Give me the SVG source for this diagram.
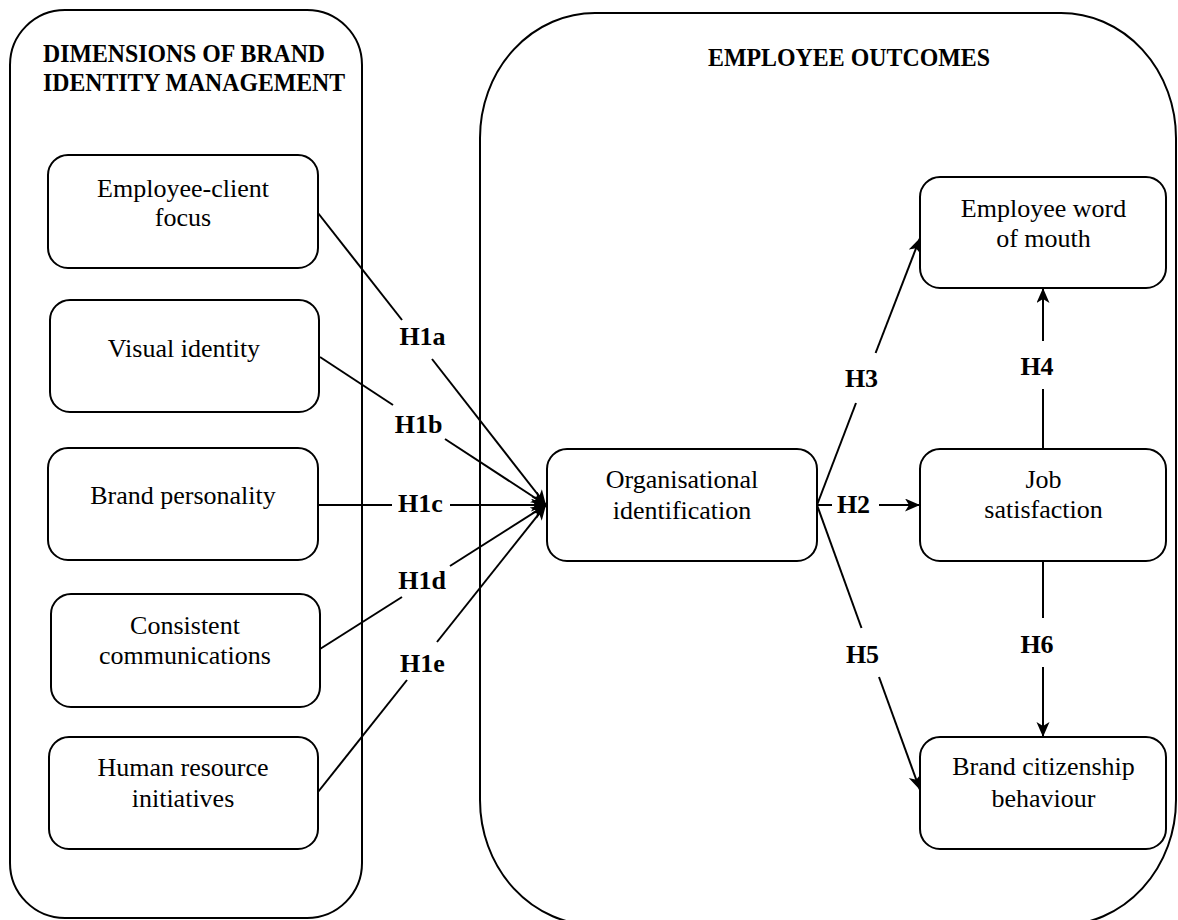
<svg xmlns="http://www.w3.org/2000/svg" width="1178" height="920" viewBox="0 0 1178 920">
<style>
.bg{fill:#fff}
.cont{fill:none;stroke:#000;stroke-width:2}
.box{fill:#fff;stroke:#000;stroke-width:2}
.t{font-family:"Liberation Serif","Times New Roman",serif;font-size:26px;fill:#000;text-anchor:middle}
.title{font-family:"Liberation Serif","Times New Roman",serif;font-size:25px;font-weight:bold;fill:#000}
.lbl{font-family:"Liberation Serif","Times New Roman",serif;font-size:26px;font-weight:bold;fill:#000;text-anchor:middle}
.ln{fill:none;stroke:#000;stroke-width:2}
.arr{marker-end:url(#ah)}
</style>
<defs>
<marker id="ah" markerUnits="userSpaceOnUse" markerWidth="16" markerHeight="14" refX="15" refY="6.5" orient="auto">
<path d="M0,0 L15,6.5 L0,13 L4,6.5 z" fill="#000"/>
</marker>
</defs>
<rect class="bg" x="0" y="0" width="1178" height="920"/>

<g id="group-dimensions">
<rect class="cont" x="10" y="10" width="352" height="908" rx="55" ry="55"/>
<text class="title" x="43" y="62" textLength="282" lengthAdjust="spacingAndGlyphs">DIMENSIONS OF BRAND</text>
<text class="title" x="43" y="91" textLength="302" lengthAdjust="spacingAndGlyphs">IDENTITY MANAGEMENT</text>
</g>

<g id="group-outcomes">
<rect class="cont" x="480" y="13" width="696" height="912" rx="115" ry="125"/>
<text class="title" x="708" y="66" textLength="282" lengthAdjust="spacingAndGlyphs">EMPLOYEE OUTCOMES</text>
</g>

<g id="connectors">
<line class="ln" x1="318" y1="213" x2="402" y2="320"/>
<line class="ln arr" x1="432" y1="359" x2="546" y2="505"/>
<line class="ln" x1="320" y1="357" x2="393" y2="405"/>
<line class="ln arr" x1="445" y1="439" x2="546" y2="505"/>
<line class="ln" x1="318" y1="505" x2="392" y2="505"/>
<line class="ln arr" x1="450" y1="505" x2="546" y2="505"/>
<line class="ln" x1="320" y1="649" x2="402" y2="597"/>
<line class="ln arr" x1="450" y1="566" x2="546" y2="505"/>
<line class="ln" x1="318" y1="792" x2="407" y2="680"/>
<line class="ln arr" x1="437" y1="642" x2="546" y2="505"/>

<line class="ln" x1="817" y1="505" x2="832" y2="505"/>
<line class="ln arr" x1="879" y1="505" x2="920" y2="505"/>
<line class="ln" x1="817" y1="505" x2="856" y2="403"/>
<line class="ln arr" x1="875.6" y1="353" x2="920" y2="238"/>
<line class="ln" x1="817" y1="505" x2="861.5" y2="628"/>
<line class="ln arr" x1="879" y1="677" x2="920" y2="790"/>
<line class="ln" x1="1043" y1="449" x2="1043" y2="389"/>
<line class="ln arr" x1="1043" y1="341" x2="1043" y2="288"/>
<line class="ln" x1="1043" y1="561" x2="1043" y2="618"/>
<line class="ln arr" x1="1043" y1="667" x2="1043" y2="737"/>

<text class="lbl" x="422.5" y="345">H1a</text>
<text class="lbl" x="418.5" y="433">H1b</text>
<text class="lbl" x="420.5" y="512">H1c</text>
<text class="lbl" x="422" y="589">H1d</text>
<text class="lbl" x="422.5" y="672">H1e</text>
<text class="lbl" x="853.5" y="513">H2</text>
<text class="lbl" x="861.5" y="387">H3</text>
<text class="lbl" x="1037" y="375">H4</text>
<text class="lbl" x="862.5" y="663">H5</text>
<text class="lbl" x="1037" y="653">H6</text>
</g>

<g id="node-ecf">
<rect class="box" x="48" y="155" width="270" height="113" rx="20"/>
<text class="t" x="183" y="197">Employee-client</text>
<text class="t" x="183" y="226">focus</text>
</g>
<g id="node-vi">
<rect class="box" x="50" y="300" width="269" height="112" rx="20"/>
<text class="t" x="184" y="357">Visual identity</text>
</g>
<g id="node-bp">
<rect class="box" x="48" y="448" width="270" height="112" rx="20"/>
<text class="t" x="183" y="504">Brand personality</text>
</g>
<g id="node-cc">
<rect class="box" x="51" y="594" width="269" height="113" rx="20"/>
<text class="t" x="185" y="634">Consistent</text>
<text class="t" x="185" y="664">communications</text>
</g>
<g id="node-hri">
<rect class="box" x="49" y="737" width="269" height="112" rx="20"/>
<text class="t" x="183" y="776">Human resource</text>
<text class="t" x="183" y="807">initiatives</text>
</g>

<g id="node-oi">
<rect class="box" x="547" y="449" width="270" height="112" rx="20"/>
<text class="t" x="682" y="488">Organisational</text>
<text class="t" x="682" y="519">identification</text>
</g>
<g id="node-ewom">
<rect class="box" x="920" y="177" width="246" height="111" rx="20"/>
<text class="t" x="1043.5" y="217">Employee word</text>
<text class="t" x="1043.5" y="247">of mouth</text>
</g>
<g id="node-js">
<rect class="box" x="920" y="449" width="246" height="112" rx="20"/>
<text class="t" x="1043.5" y="488">Job</text>
<text class="t" x="1043.5" y="518">satisfaction</text>
</g>
<g id="node-bcb">
<rect class="box" x="920" y="737" width="246" height="112" rx="20"/>
<text class="t" x="1043.5" y="775">Brand citizenship</text>
<text class="t" x="1043.5" y="807">behaviour</text>
</g>
</svg>
